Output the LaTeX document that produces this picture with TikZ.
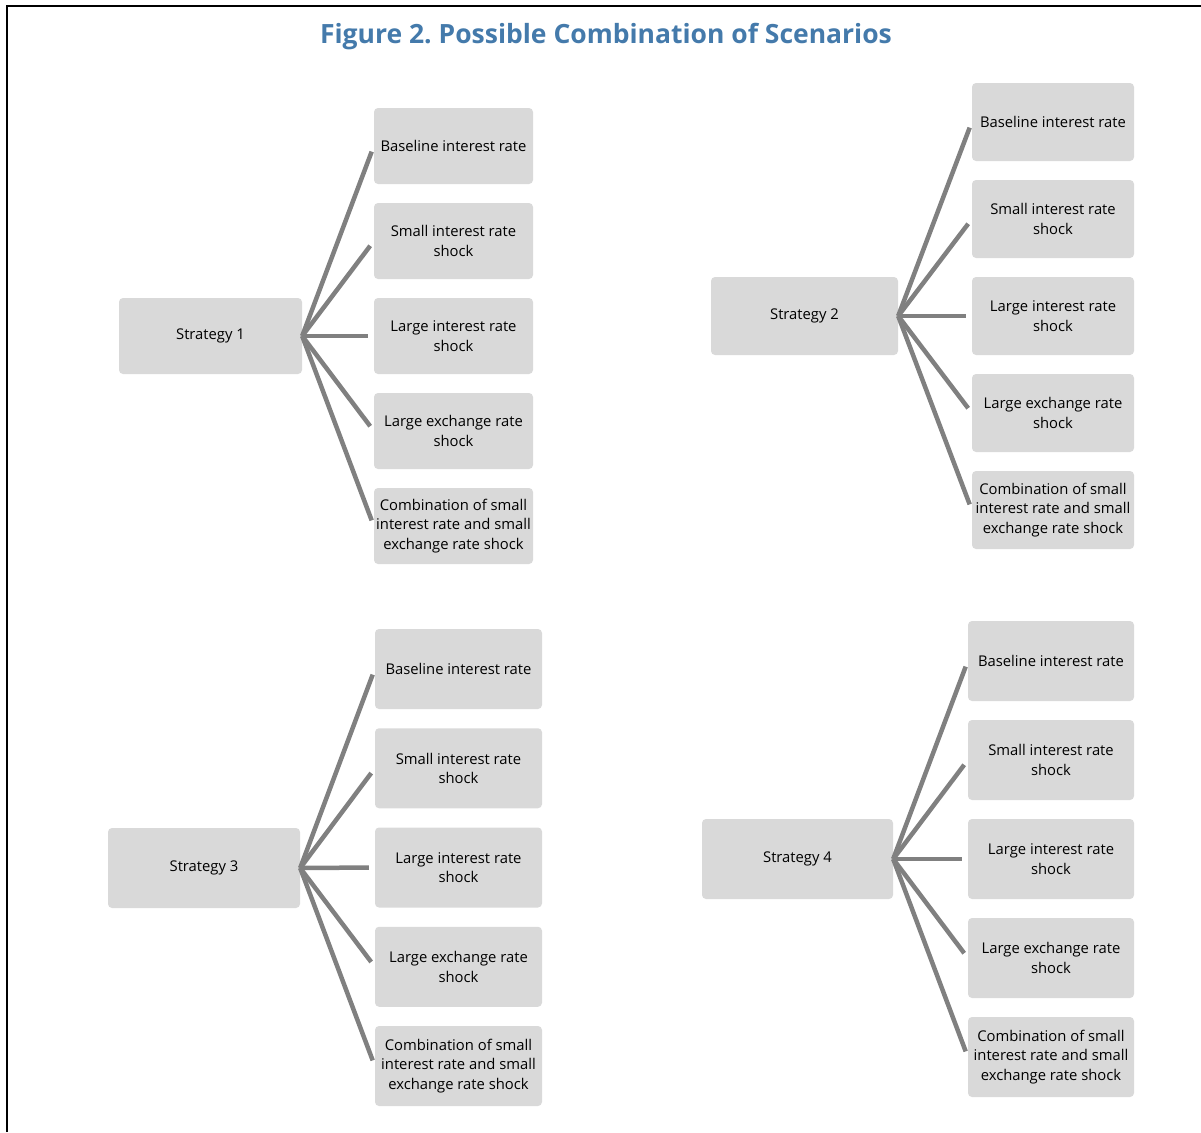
\documentclass[tikz,border=0pt]{standalone}
\usepackage{fontspec}
\setmainfont{Open Sans}
\frenchspacing
\definecolor{boxgray}{RGB}{217,217,217}
\definecolor{linkgray}{RGB}{128,128,128}
\definecolor{titleblue}{RGB}{68,122,171}
\begin{document}
\begin{tikzpicture}[x=1pt,y=-1pt,
  box/.style={draw=none, fill=boxgray, rounded corners=4pt, align=center, inner sep=0pt,
    font=\fontsize{14.8}{19.5}\selectfont, text=black},
  link/.style={draw=linkgray, line width=4.5pt, shorten >=6pt}]
\useasboundingbox (0,0) rectangle (1201,1132);
\draw[line width=2pt] (7,1132) -- (7,6) -- (1201,6);
\node[font=\fontsize{26.5}{30}\selectfont\bfseries, text=titleblue] (title) at (606,37) {Figure 2. Possible Combination of Scenarios};

% Strategy 1
\node[box, minimum width=183pt, minimum height=76pt] (s1) at (210.5,336) {Strategy 1};
\foreach \i/\t in {0/{Baseline interest rate},1/{Small interest rate\\shock},2/{Large interest rate\\shock},3/{Large exchange rate\\shock},4/{Combination of small\\interest rate and small\\exchange rate shock}} {
  \node[box, minimum width=159pt, minimum height=76pt] (a\i) at (453.5,146+95*\i) {\t};
  \draw[link] (s1.east) -- (a\i.west);
}

% Strategy 2
\node[box, minimum width=187pt, minimum height=78pt] (s2) at (804.5,316) {Strategy 2};
\foreach \i/\t in {0/{Baseline interest rate},1/{Small interest rate\\shock},2/{Large interest rate\\shock},3/{Large exchange rate\\shock},4/{Combination of small\\interest rate and small\\exchange rate shock}} {
  \node[box, minimum width=162pt, minimum height=78pt] (b\i) at (1053,122+97*\i) {\t};
  \draw[link] (s2.east) -- (b\i.west);
}

% Strategy 3
\node[box, minimum width=192pt, minimum height=80pt] (s3) at (204,868) {Strategy 3};
\foreach \i/\t in {0/{Baseline interest rate},1/{Small interest rate\\shock},2/{Large interest rate\\shock},3/{Large exchange rate\\shock},4/{Combination of small\\interest rate and small\\exchange rate shock}} {
  \node[box, minimum width=167pt, minimum height=80pt] (c\i) at (458.5,669+99.25*\i) {\t};
  \draw[link] (s3.east) -- (c\i.west);
}

% Strategy 4
\node[box, minimum width=191pt, minimum height=80pt] (s4) at (797.5,859) {Strategy 4};
\foreach \i/\t in {0/{Baseline interest rate},1/{Small interest rate\\shock},2/{Large interest rate\\shock},3/{Large exchange rate\\shock},4/{Combination of small\\interest rate and small\\exchange rate shock}} {
  \node[box, minimum width=166pt, minimum height=80pt] (d\i) at (1051,661+99*\i) {\t};
  \draw[link] (s4.east) -- (d\i.west);
}
\end{tikzpicture}
\end{document}
